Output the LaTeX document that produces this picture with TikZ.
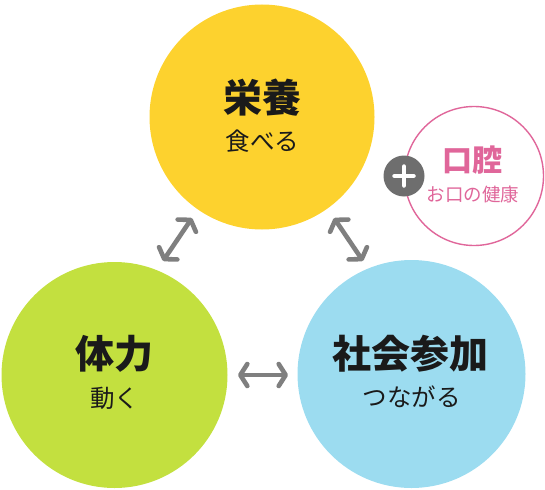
\documentclass[tikz,border=0pt]{standalone}
\usepackage{fontspec}
\newfontfamily\jp{Noto Sans CJK JP}
\usetikzlibrary{arrows.meta}
\definecolor{cyellow}{HTML}{FDD22E}
\definecolor{cgreen}{HTML}{C3E03F}
\definecolor{cblue}{HTML}{9CDCF0}
\definecolor{cpink}{HTML}{E0669A}
\definecolor{cgray}{HTML}{7F7F7F}
\definecolor{cplus}{HTML}{6E6E6E}
\definecolor{ctext}{HTML}{1A1A1A}
\tikzset{
  bigcircle/.style={circle, inner sep=0pt, minimum size=#1},
  title/.style={font=\jp\bfseries\fontsize{39}{41}\selectfont, text=ctext, inner sep=0pt},
  sub/.style={font=\jp\fontsize{24.5}{26}\selectfont, text=ctext, inner sep=0pt},
  link/.style={draw=cgray, line width=4.6pt, line cap=round,
    {Straight Barb[length=7pt,width=22pt,line cap=round,line join=round]}-{Straight Barb[length=7pt,width=22pt,line cap=round,line join=round]}}
}
\begin{document}
\begin{tikzpicture}[x=1pt,y=-1pt]
\useasboundingbox (0,0) rectangle (545,489);
% circles
\node[bigcircle=225pt, fill=cyellow] (eiyo) at (262,117) {};
\node[bigcircle=226pt, fill=cgreen] (tairyoku) at (114.5,375) {};
\node[bigcircle=228pt, fill=cblue] (shakai) at (411.5,374) {};
\node[bigcircle=139pt, draw=cpink, line width=1.4pt, fill=white] (koku) at (474,176) {};
\node[bigcircle=41pt, fill=cplus] (plus) at (404,176) {};
\draw[white, line width=4.5pt, line cap=round] ([xshift=-9.5pt]plus.center) -- ([xshift=9.5pt]plus.center);
\draw[white, line width=4.5pt, line cap=round] ([yshift=-9.5pt]plus.center) -- ([yshift=9.5pt]plus.center);
% texts
\node[title] (t1) at (262.5,97.5) {栄養};
\node[sub] (s1) at (262.5,141) {食べる};
\node[title] (t2) at (114.5,354) {体力};
\node[sub] (s2) at (114.5,398) {動く};
\node[title] (t3) at (410.5,354) {社会参加};
\node[sub] (s3) at (411.5,397) {つながる};
\node[font=\jp\bfseries\fontsize{30}{32}\selectfont, text=cpink, inner sep=0pt] (t4) at (472.5,160) {口腔};
\node[font=\jp\fontsize{18.5}{20}\selectfont, text=cpink, inner sep=0pt] (s4) at (473,195) {お口の健康};
% arrows
\coordinate (a1) at (192,218);
\coordinate (a2) at (163,261);
\coordinate (b1) at (334,218);
\coordinate (b2) at (363,261);
\coordinate (c1) at (238,375);
\coordinate (c2) at (288,375);
\draw[link] (a1) -- (a2);
\draw[link] (b1) -- (b2);
\draw[link] (c1) -- (c2);
\end{tikzpicture}
\end{document}
